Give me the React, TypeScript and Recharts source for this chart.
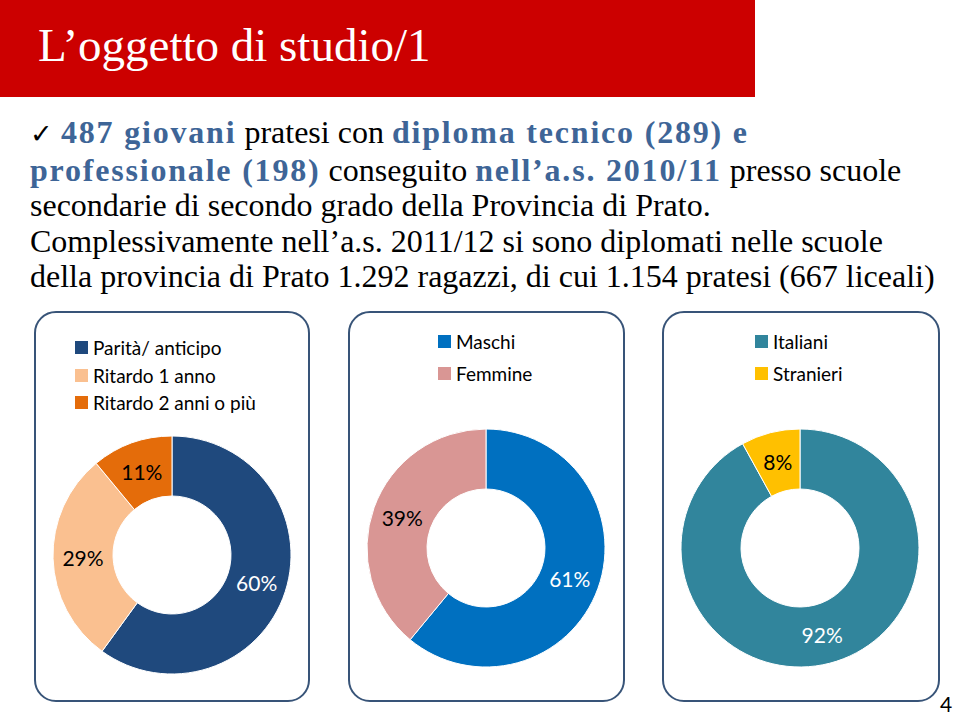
import { PieChart, Pie, Cell, Legend } from "recharts";

// valori (percentuali)
const ageCategories = ["Parità/ anticipo", "Ritardo 1 anno", "Ritardo 2 anni o più"];
const ageValues = [60, 29, 11];
const genderCategories = ["Maschi", "Femmine"];
const genderValues = [61, 39];
const originCategories = ["Italiani", "Stranieri"];
const originValues = [92, 8];

const ageColors = ["#1F497D", "#FAC090", "#E46C0A"];
const genderColors = ["#0070C0", "#D99694"];
const originColors = ["#31859C", "#FFC000"];

const ageLabelColors = ["#FFFFFF", "#000000", "#000000"];
const genderLabelColors = ["#FFFFFF", "#000000"];
const originLabelColors = ["#FFFFFF", "#000000"];

const RADIAN = Math.PI / 180;
const sansFont = "Lato, 'Open Sans', sans-serif";
const serifFont = "'Liberation Serif', 'DejaVu Serif', serif";
const blue = "#3E6597";

const buildRows = (names: string[], values: number[]) =>
  names.map((name, i) => ({ name, value: values[i] }));

const makeLabel = (labelColors: string[]) => (props: any) => {
  const { cx, cy, midAngle, innerRadius, outerRadius, value, index } = props;
  const r = (innerRadius + outerRadius) / 2;
  const x = cx + r * Math.cos(-midAngle * RADIAN);
  const y = cy + r * Math.sin(-midAngle * RADIAN);
  return (
    <text
      x={x}
      y={y}
      fill={labelColors[index]}
      textAnchor="middle"
      dominantBaseline="central"
      fontFamily={sansFont}
      fontSize={21}
    >
      {value}%
    </text>
  );
};

const makeLegend = (names: string[], colors: string[], rowGap: number) => () => (
  <div style={{ fontFamily: sansFont, fontSize: 19, color: "#000" }}>
    {names.map((n, i) => (
      <div key={n} style={{ display: "flex", alignItems: "center", height: rowGap }}>
        <span
          style={{
            width: 13,
            height: 13,
            background: colors[i],
            display: "inline-block",
            marginRight: 5,
          }}
        />
        <span>{n}</span>
      </div>
    ))}
  </div>
);

type PanelProps = {
  left: number;
  width: number;
  names: string[];
  values: number[];
  colors: string[];
  labelColors: string[];
  cy: number;
  legendLeft: number;
  legendTop: number;
  rowGap: number;
};

function DonutPanel(p: PanelProps) {
  const top = 311;
  const height = 391;
  return (
    <>
      <div style={{ position: "absolute", left: p.left, top, width: p.width, height }}>
        <PieChart width={p.width} height={height} margin={{ top: 0, right: 0, bottom: 0, left: 0 }}>
          <Legend
            content={makeLegend(p.names, p.colors, p.rowGap)}
            wrapperStyle={{ left: p.legendLeft, top: p.legendTop, width: "auto" }}
          />
          <Pie
            data={buildRows(p.names, p.values)}
            dataKey="value"
            nameKey="name"
            cx={138}
            cy={p.cy}
            innerRadius={59}
            outerRadius={119}
            startAngle={90}
            endAngle={-270}
            stroke="#FFFFFF"
            strokeWidth={1}
            labelLine={false}
            label={makeLabel(p.labelColors)}
            isAnimationActive={false}
          >
            {p.names.map((n, i) => (
              <Cell key={n} fill={p.colors[i]} />
            ))}
          </Pie>
        </PieChart>
      </div>
      <div
        style={{
          position: "absolute",
          left: p.left,
          top,
          width: p.width,
          height,
          boxSizing: "border-box",
          border: "2px solid #385478",
          borderRadius: 22,
          pointerEvents: "none",
        }}
      />
    </>
  );
}

export default function App() {
  const b = { color: blue, fontWeight: 700, letterSpacing: 1.8 };
  return (
    <div style={{ position: "absolute", left: 0, top: 0, width: 960, height: 716, background: "#fff", overflow: "hidden" }}>
      <div style={{ position: "absolute", left: 0, top: 0, width: 755, height: 97, background: "#CC0000" }} />
      <div
        style={{
          position: "absolute",
          left: 38,
          top: 22,
          fontFamily: serifFont,
          fontSize: 47,
          lineHeight: "47px",
          color: "#fff",
          whiteSpace: "nowrap",
        }}
      >
        L’oggetto di studio/1
      </div>

      <div
        style={{
          position: "absolute",
          left: 30,
          top: 115,
          fontFamily: serifFont,
          fontSize: 32,
          lineHeight: "35.5px",
          color: "#000",
          whiteSpace: "nowrap",
        }}
      >
        <span style={{ fontSize: 27 }}>✓</span> <span style={b}>487 giovani</span> pratesi con{" "}
        <span style={b}>diploma tecnico (289) e</span>
        <br />
        <span style={b}>professionale (198)</span> conseguito <span style={b}>nell’a.s. 2010/11</span> presso scuole
        <br />
        secondarie di secondo grado della Provincia di Prato.
        <br />
        Complessivamente nell’a.s. 2011/12 si sono diplomati nelle scuole
        <br />
        della provincia di Prato 1.292 ragazzi, di cui 1.154 pratesi (667 liceali)
      </div>

      <DonutPanel
        left={34}
        width={276}
        names={ageCategories}
        values={ageValues}
        colors={ageColors}
        labelColors={ageLabelColors}
        cy={244}
        legendLeft={41}
        legendTop={23}
        rowGap={27.5}
      />
      <DonutPanel
        left={348}
        width={277}
        names={genderCategories}
        values={genderValues}
        colors={genderColors}
        labelColors={genderLabelColors}
        cy={237}
        legendLeft={90}
        legendTop={14}
        rowGap={32}
      />
      <DonutPanel
        left={662}
        width={278}
        names={originCategories}
        values={originValues}
        colors={originColors}
        labelColors={originLabelColors}
        cy={237}
        legendLeft={93}
        legendTop={14}
        rowGap={32}
      />

      <div
        style={{
          position: "absolute",
          left: 940,
          top: 691,
          fontFamily: sansFont,
          fontSize: 21,
          color: "#000",
        }}
      >
        4
      </div>
    </div>
  );
}
